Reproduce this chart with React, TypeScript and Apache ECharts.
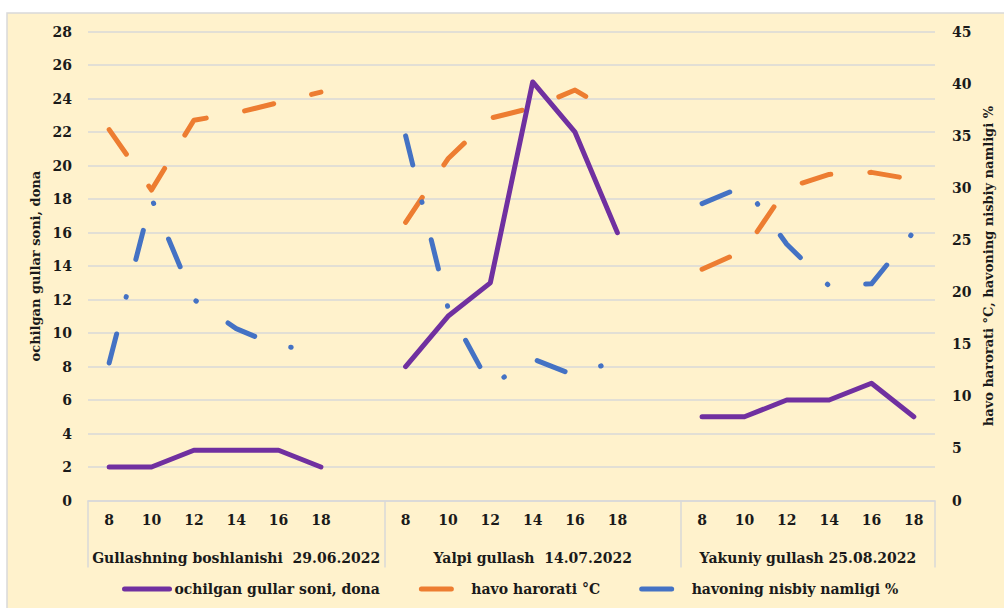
import React, { useEffect, useRef } from "react";
import * as echarts from "echarts";

const hours = ["8", "10", "12", "14", "16", "18", "", "8", "10", "12", "14", "16", "18", "", "8", "10", "12", "14", "16", "18"];
const groupNames = ["Gullashning boshlanishi  29.06.2022", "Yalpi gullash  14.07.2022", "Yakuniy gullash 25.08.2022"];
const groupBounds = [0, 7, 14, 20];
const groupCenters = [3.5, 10.5, 17];

const flowers = [2, 2, 3, 3, 3, 2, null, 8, 11, 13, 25, 22, 16, null, 5, 5, 6, 6, 7, 5];
const temperature = [35.6, 29.8, 36.5, 37.2, 38.2, 39.2, null, 26.7, 32.8, 36.7, 37.7, 39.4, 37.0, null, 22.2, 24.0, 30.0, 31.3, 31.5, 30.8];
const humidity = [13.2, 29.0, 19.3, 16.5, 14.8, 14.5, null, 35.0, 18.5, 11.0, 13.6, 12.0, 13.5, null, 28.5, 30.2, 24.6, 20.6, 20.8, 25.8];

const seriesNames = ["ochilgan gullar soni, dona", "havo harorati °C", "havoning nisbiy namligi %"];

const FONT = "'DejaVu Serif', 'Liberation Serif', serif";
const TXT = "#1a1a1a";

export default function App() {
  const ref = useRef<HTMLDivElement>(null);
  useEffect(() => {
    if (!ref.current) return;
    const chart = echarts.init(ref.current, undefined, { renderer: "svg" });
    const labelStyle = { fontFamily: FONT, fontSize: 14, fontWeight: "bold" as const, color: TXT };
    chart.setOption({
      animation: false,
      backgroundColor: "#ffffff",
      textStyle: { fontFamily: FONT },
      graphic: [
        {
          type: "rect",
          z: -10,
          silent: true,
          shape: { x: 7, y: 13, width: 1010, height: 610 },
          style: { fill: "#FFF2CC", stroke: "#D9D9D9", lineWidth: 1.5 },
        },
      ],
      grid: { left: 88, right: 69, top: 31.7, bottom: 107.5, containLabel: false },
      legend: {
        left: 122,
        top: 582,
        padding: 0,
        itemWidth: 45,
        itemHeight: 10,
        itemGap: 39,
        itemStyle: { opacity: 0 },
        lineStyle: { width: 5 },
        textStyle: { ...labelStyle },
        data: seriesNames,
      },
      xAxis: [
        {
          type: "category",
          position: "bottom",
          data: hours,
          boundaryGap: true,
          axisLine: { show: false },
          axisTick: { show: false },
          axisLabel: { ...labelStyle, interval: 0, margin: 12 },
          splitLine: { show: false },
        },
        {
          type: "value",
          position: "bottom",
          min: 0,
          max: 20,
          axisLine: { show: true, lineStyle: { color: "#D9D9D9", width: 1.5 } },
          axisTick: { show: true, customValues: groupBounds, length: 67, lineStyle: { color: "#D9D9D9", width: 1.5 } },
          axisLabel: {
            ...labelStyle,
            margin: 50,
            customValues: groupCenters,
            formatter: (v: number) => {
              const i = groupCenters.indexOf(v);
              return i >= 0 ? groupNames[i] : "";
            },
          },
          splitLine: { show: false },
        },
      ],
      yAxis: [
        {
          type: "value",
          position: "left",
          min: 0,
          max: 28,
          interval: 2,
          name: "ochilgan gullar soni, dona",
          nameLocation: "middle",
          nameRotate: 90,
          nameGap: 42,
          nameTextStyle: { fontFamily: FONT, fontSize: 13, fontWeight: "bold", color: TXT },
          axisLine: { show: false },
          axisTick: { show: false },
          axisLabel: { ...labelStyle, margin: 16 },
          splitLine: { show: true, lineStyle: { color: "#D9D9D9", width: 1.5 } },
        },
        {
          type: "value",
          position: "right",
          min: 0,
          max: 45,
          interval: 5,
          name: "havo harorati °C, havoning nisbiy namligi %",
          nameLocation: "middle",
          nameRotate: 90,
          nameGap: 45,
          nameTextStyle: { fontFamily: FONT, fontSize: 13, fontWeight: "bold", color: TXT },
          axisLine: { show: false },
          axisTick: { show: false },
          axisLabel: { ...labelStyle, margin: 17 },
          splitLine: { show: false },
        },
      ],
      series: [
        {
          name: seriesNames[0],
          type: "line",
          xAxisIndex: 0,
          yAxisIndex: 0,
          data: flowers,
          symbol: "none",
          showSymbol: false,
          connectNulls: false,
          itemStyle: { color: "#7030A0" },
          lineStyle: { color: "#7030A0", width: 5, cap: "round", join: "round" },
          z: 3,
        },
        {
          name: seriesNames[1],
          type: "line",
          xAxisIndex: 0,
          yAxisIndex: 1,
          data: temperature,
          symbol: "none",
          showSymbol: false,
          connectNulls: false,
          itemStyle: { color: "#ED7D31" },
          lineStyle: { color: "#ED7D31", width: 5, type: [30, 39], cap: "round", join: "round" },
          z: 2,
        },
        {
          name: seriesNames[2],
          type: "line",
          xAxisIndex: 0,
          yAxisIndex: 1,
          data: humidity,
          symbol: "none",
          showSymbol: false,
          connectNulls: false,
          itemStyle: { color: "#4472C4" },
          lineStyle: { color: "#4472C4", width: 5, type: [30, 38, 0.5, 38.5], cap: "round", join: "round" },
          z: 2,
        },
      ],
    });
    return () => chart.dispose();
  }, []);
  return <div ref={ref} style={{ position: "fixed", left: 0, top: 0, width: 1004, height: 608 }} />;
}
